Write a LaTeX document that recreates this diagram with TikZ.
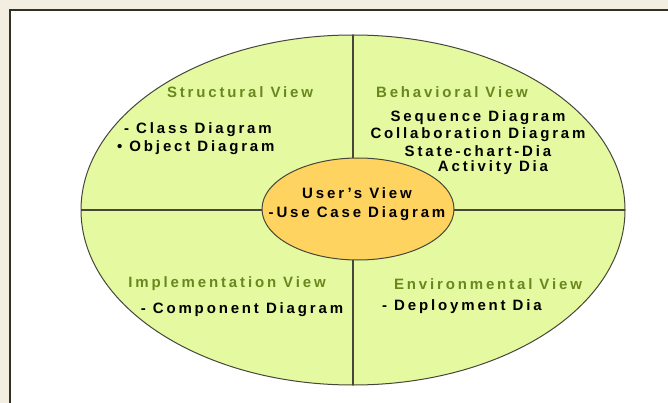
\documentclass[tikz,border=0pt]{standalone}
\usepackage{fontspec}
\setmainfont[LetterSpace=19]{Liberation Sans}
\usetikzlibrary{shapes.geometric}
\definecolor{framebg}{RGB}{242,239,226}
\definecolor{frameline}{RGB}{50,50,36}
\definecolor{umlgreen}{RGB}{229,250,160}
\definecolor{umlorange}{RGB}{255,211,95}
\definecolor{viewgreen}{RGB}{105,135,30}
\definecolor{ringline}{RGB}{70,70,60}

\begin{document}
\begin{tikzpicture}[x=1pt,y=-1pt,
    view/.style={font=\fontsize{15}{17}\selectfont\bfseries, text=viewgreen, inner sep=0pt},
    diag/.style={font=\fontsize{15}{17}\selectfont\bfseries, text=black, inner sep=0pt},
    oval/.style={ellipse, draw=ringline, inner sep=0pt, outer sep=0pt}]
        \useasboundingbox (0,0) rectangle (668,403);
        \fill [framebg] (0,0) rectangle (668,403);
        \fill [white] (10,10) rectangle (668,403);
        \draw [frameline, line width=2pt] (10,403) -- (10,10) -- (668,10);
        % outer ring of the four views
        \node [oval, fill=umlgreen, line width=1pt, minimum width=544, minimum height=350] (views) at (353,210) {};
        \draw [ringline, line width=1.4pt] (views.west) -- (views.east);
        \draw [ringline, line width=1.1pt] (views.north) -- (views.south);
        % centre view
        \node [oval, fill=umlorange, line width=1pt, minimum width=192, minimum height=102] (user) at (358,209) {};
        \node [diag, align=center] (usertext) at (357,204) {User's View\\[2pt]-Use Case Diagram};
        \foreach \x/\y/\t [count=\i] in {240/92/Structural View, 452/92/Behavioral View,
                                          227/284/Implementation View, 488/284/Environmental View}
        {
          \node [view] (head\i) at (\x,\y) {\t};
        }
        \node [diag, anchor=west] (classd) at (124,130) {- Class Diagram};
        \node [diag, anchor=west] (objectd) at (117,148) {• Object Diagram};
        \foreach \y/\t [count=\i] in {118/Sequence Diagram, 135/Collaboration Diagram, 151/State-chart-Dia}
        {
          \node [diag] (behav\i) at (478,\y) {\t};
        }
        \node [diag] (activity) at (493,168) {Activity Dia};
        \node [diag] (component) at (242,310) {- Component Diagram};
        \node [diag] (deploy) at (462,307) {- Deployment Dia};
\end{tikzpicture}
\end{document}
